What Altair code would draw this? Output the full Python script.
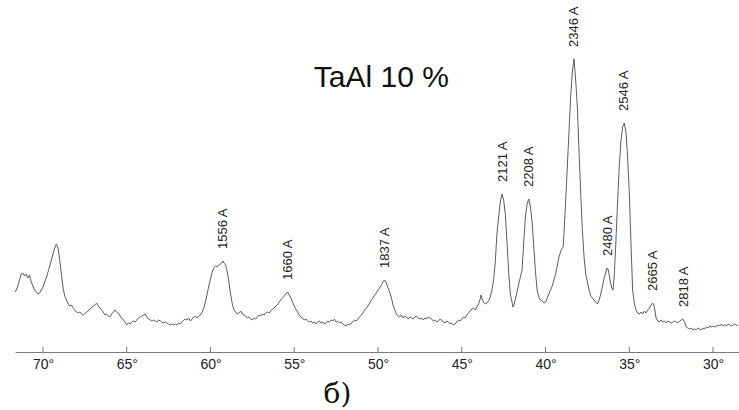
import altair as alt
import pandas as pd

# 2-theta (degrees) and intensity (arbitrary units)
two_theta = [
    71.65, 71.5, 71.4, 71.3, 71.2, 71.1, 71.0, 70.9, 70.8, 70.7, 70.6, 70.5, 70.4, 70.3, 70.2, 70.1,
    70.0, 69.9, 69.8, 69.7, 69.6, 69.5, 69.4, 69.3, 69.2, 69.1, 69.0, 68.9, 68.8, 68.7, 68.6, 68.5,
    68.4, 68.3, 68.2, 68.1, 68.0, 67.9, 67.8, 67.7, 67.6, 67.5, 67.4, 67.3, 67.2, 67.1, 67.0, 66.9,
    66.8, 66.7, 66.6, 66.5, 66.4, 66.3, 66.2, 66.1, 66.0, 65.9, 65.8, 65.7, 65.6, 65.5, 65.4, 65.3,
    65.2, 65.1, 65.0, 64.9, 64.8, 64.7, 64.6, 64.5, 64.4, 64.3, 64.2, 64.1, 64.0, 63.9, 63.8, 63.7,
    63.6, 63.5, 63.4, 63.3, 63.2, 63.1, 63.0, 62.9, 62.8, 62.7, 62.6, 62.5, 62.4, 62.3, 62.2, 62.1,
    62.0, 61.9, 61.8, 61.7, 61.6, 61.5, 61.4, 61.3, 61.2, 61.1, 61.0, 60.9, 60.8, 60.7, 60.6, 60.5,
    60.4, 60.3, 60.2, 60.1, 60.0, 59.9, 59.8, 59.7, 59.6, 59.5, 59.4, 59.3, 59.25, 59.2, 59.1, 59.0,
    58.9, 58.8, 58.7, 58.6, 58.5, 58.4, 58.3, 58.2, 58.1, 58.0, 57.9, 57.8, 57.7, 57.6, 57.5, 57.4,
    57.3, 57.2, 57.1, 57.0, 56.9, 56.8, 56.7, 56.6, 56.5, 56.4, 56.3, 56.2, 56.1, 56.0, 55.9, 55.8,
    55.7, 55.6, 55.5, 55.4, 55.3, 55.2, 55.1, 55.0, 54.9, 54.8, 54.7, 54.6, 54.5, 54.4, 54.3, 54.2,
    54.1, 54.0, 53.9, 53.8, 53.7, 53.6, 53.5, 53.4, 53.3, 53.2, 53.1, 53.0, 52.9, 52.8, 52.7, 52.6,
    52.5, 52.4, 52.3, 52.2, 52.1, 52.0, 51.9, 51.8, 51.7, 51.6, 51.5, 51.4, 51.3, 51.2, 51.1, 51.0,
    50.9, 50.8, 50.7, 50.6, 50.5, 50.4, 50.3, 50.2, 50.1, 50.0, 49.9, 49.8, 49.7, 49.6, 49.5, 49.4,
    49.3, 49.2, 49.1, 49.0, 48.9, 48.8, 48.7, 48.6, 48.5, 48.4, 48.3, 48.2, 48.1, 48.0, 47.9, 47.8,
    47.7, 47.6, 47.5, 47.4, 47.3, 47.2, 47.1, 47.0, 46.9, 46.8, 46.7, 46.6, 46.5, 46.4, 46.3, 46.2,
    46.1, 46.0, 45.9, 45.8, 45.7, 45.6, 45.5, 45.4, 45.3, 45.2, 45.1, 45.0, 44.9, 44.8, 44.7, 44.6,
    44.5, 44.4, 44.3, 44.2, 44.1, 44.0, 43.9, 43.85, 43.8, 43.7, 43.6, 43.5, 43.4, 43.3, 43.2, 43.1,
    43.0, 42.9, 42.8, 42.7, 42.6, 42.5, 42.4, 42.3, 42.2, 42.1, 42.0, 41.95, 41.9, 41.8, 41.7, 41.6,
    41.5, 41.4, 41.3, 41.2, 41.1, 41.0, 40.9, 40.8, 40.7, 40.6, 40.5, 40.4, 40.3, 40.2, 40.1, 40.0,
    39.9, 39.8, 39.7, 39.6, 39.5, 39.4, 39.3, 39.2, 39.1, 39.0, 38.95, 38.9, 38.8, 38.7, 38.6, 38.5,
    38.4, 38.3, 38.2, 38.1, 38.0, 37.9, 37.8, 37.7, 37.6, 37.5, 37.4, 37.3, 37.2, 37.1, 37.0, 36.9,
    36.8, 36.7, 36.6, 36.5, 36.4, 36.33, 36.25, 36.15, 36.05, 35.97, 35.9, 35.8, 35.7, 35.6, 35.5, 35.4,
    35.3, 35.2, 35.1, 35.0, 34.9, 34.8, 34.7, 34.6, 34.5, 34.4, 34.3, 34.2, 34.1, 34.0, 33.9, 33.8,
    33.7, 33.6, 33.5, 33.4, 33.3, 33.2, 33.1, 33.0, 32.9, 32.8, 32.7, 32.6, 32.5, 32.4, 32.3, 32.2,
    32.1, 32.0, 31.9, 31.8, 31.7, 31.6, 31.5, 31.4, 31.3, 31.2, 31.1, 31.0, 30.9, 30.8, 30.7, 30.6,
    30.5, 30.4, 30.3, 30.2, 30.1, 30.0, 29.9, 29.8, 29.7, 29.6, 29.5, 29.4, 29.3, 29.2, 29.1, 29.0,
    28.9, 28.8, 28.7, 28.6, 28.5,
]
intensity = [
    60, 66, 72, 78, 79, 76, 78, 74, 77, 70, 66, 62, 60, 58, 59, 62,
    65, 70, 74, 80, 86, 92, 98, 104, 108, 104, 92, 78, 64, 56, 52, 48,
    46, 47, 44, 42, 40, 39, 40, 38, 37, 38, 40, 41, 43, 44, 46, 47,
    49, 46, 44, 42, 40, 37, 38, 36, 35, 38, 40, 42, 40, 39, 36, 34,
    32, 30, 27, 29, 28, 30, 31, 30, 32, 34, 35, 36, 37, 38, 35, 33,
    32, 31, 32, 31, 30, 32, 31, 30, 29, 30, 29, 28, 27, 28, 27, 28,
    27, 29, 28, 30, 32, 33, 32, 34, 31, 33, 35, 36, 34, 36, 37, 40,
    44, 50, 58, 66, 73, 80, 84, 86, 85, 87, 88, 90, 91, 89, 87, 80,
    70, 58, 48, 42, 40, 38, 39, 41, 38, 37, 36, 34, 35, 33, 32, 34,
    33, 35, 37, 36, 38, 37, 39, 40, 39, 41, 43, 44, 46, 47, 50, 52,
    54, 56, 58, 60, 57, 54, 50, 46, 43, 40, 37, 35, 34, 32, 33, 31,
    30, 31, 29, 30, 28, 30, 31, 29, 30, 28, 29, 31, 30, 32, 31, 33,
    30, 31, 29, 30, 28, 27, 26, 28, 27, 29, 30, 32, 31, 33, 35, 37,
    39, 42, 44, 46, 49, 52, 54, 57, 59, 62, 64, 67, 70, 72, 69, 64,
    60, 54, 47, 42, 38, 36, 35, 37, 34, 36, 35, 33, 35, 34, 33, 35,
    36, 34, 33, 34, 32, 34, 33, 35, 34, 33, 31, 32, 30, 31, 33, 32,
    30, 29, 31, 30, 28, 29, 27, 28, 30, 32, 31, 33, 35, 34, 37, 39,
    41, 43, 44, 42, 45, 48, 53, 57, 54, 50, 48, 49, 51, 55, 62, 72,
    90, 118, 135, 150, 158, 152, 138, 110, 80, 58, 50, 45, 46, 53, 60, 68,
    75, 82, 110, 135, 148, 153, 145, 130, 105, 80, 62, 55, 52, 51, 49, 50,
    54, 58, 62, 66, 72, 78, 86, 95, 100, 104, 105, 118, 150, 185, 220, 255,
    280, 293, 272, 245, 200, 160, 122, 95, 78, 70, 62, 56, 54, 52, 50, 48,
    52, 58, 66, 74, 80, 84, 82, 72, 64, 62, 75, 110, 150, 185, 210, 225,
    229, 220, 195, 160, 110, 62, 49, 42, 39, 38, 40, 38, 41, 39, 42, 44,
    47, 49, 45, 34, 31, 30, 32, 30, 31, 29, 31, 30, 29, 30, 31, 30,
    29, 31, 32, 33, 30, 25, 24, 23, 24, 22, 23, 22, 24, 23, 22, 24,
    23, 25, 24, 26, 25, 26, 25, 26, 27, 26, 28, 26, 27, 26, 28, 27,
    26, 27, 28, 27, 26,
]

# Peak annotations (interplanar spacing labels)
peak_labels = ["1556 A", "1660 A", "1837 A", "2121 A", "2208 A",
               "2346 A", "2480 A", "2546 A", "2665 A", "2818 A"]
peak_theta = [59.25, 55.4, 49.6, 42.55, 40.97, 38.3, 36.3, 35.3, 33.6, 31.75]
peak_height = [91, 60, 72, 158, 153, 293, 84, 229, 49, 33]

tick_values = [70, 65, 60, 55, 50, 45, 40, 35, 30]
title_text = "TaAl 10 %"
panel_label = "б)"

W, H = 724, 352

df = pd.DataFrame({"theta": two_theta, "I": intensity})
peaks = pd.DataFrame({"label": peak_labels, "theta": peak_theta, "I": peak_height})
ticks = pd.DataFrame({"theta": tick_values})

xscale = alt.Scale(domain=[28.45, 71.67], reverse=True, nice=False, zero=False)
yscale = alt.Scale(domain=[0, 352], nice=False, zero=False)

curve = alt.Chart(df).mark_line(color="#5c5c68", strokeWidth=1).encode(
    x=alt.X("theta:Q", scale=xscale,
            axis=alt.Axis(values=tick_values, labelExpr="datum.value + '°'",
                          grid=False, ticks=False, domainColor="#7a7a7a", domainWidth=1,
                          labelFont="Liberation Sans", labelFontSize=14, labelColor="#222",
                          labelPadding=5, labelFlush=False,
                          title=panel_label, titleFont="DejaVu Serif", titleFontSize=28,
                          titleFontWeight="normal", titleColor="#111",
                          titleX=322, titleY=50, titleAlign="center",
                          titleBaseline="alphabetic")),
    y=alt.Y("I:Q", scale=yscale, axis=None),
)

tick_marks = alt.Chart(ticks).mark_rule(color="#7a7a7a", strokeWidth=1).encode(
    x=alt.X("theta:Q", scale=xscale),
    y=alt.value(H - 5),
    y2=alt.value(H),
)

labels = alt.Chart(peaks).transform_calculate(ly="datum.I + 12").mark_text(
    angle=270, align="left", baseline="middle", font="Liberation Sans",
    fontSize=13, color="#222"
).encode(
    x=alt.X("theta:Q", scale=xscale),
    y=alt.Y("ly:Q", scale=yscale),
    text="label:N",
)

title = alt.Chart(pd.DataFrame({"t": [title_text]})).mark_text(
    font="Liberation Sans", fontSize=30, color="#111", align="center", baseline="middle"
).encode(
    x=alt.datum(49.8, scale=xscale),
    y=alt.datum(274, scale=yscale),
    text="t:N",
)

chart = alt.layer(curve, tick_marks, labels, title).properties(
    width=W, height=H,
    autosize=alt.AutoSizeParams(type="none"),
    padding={"left": 15, "top": 0, "right": 0, "bottom": 58},
).configure_view(stroke=None)

chart.save("out.html", embed_options={"renderer": "svg", "actions": False})
